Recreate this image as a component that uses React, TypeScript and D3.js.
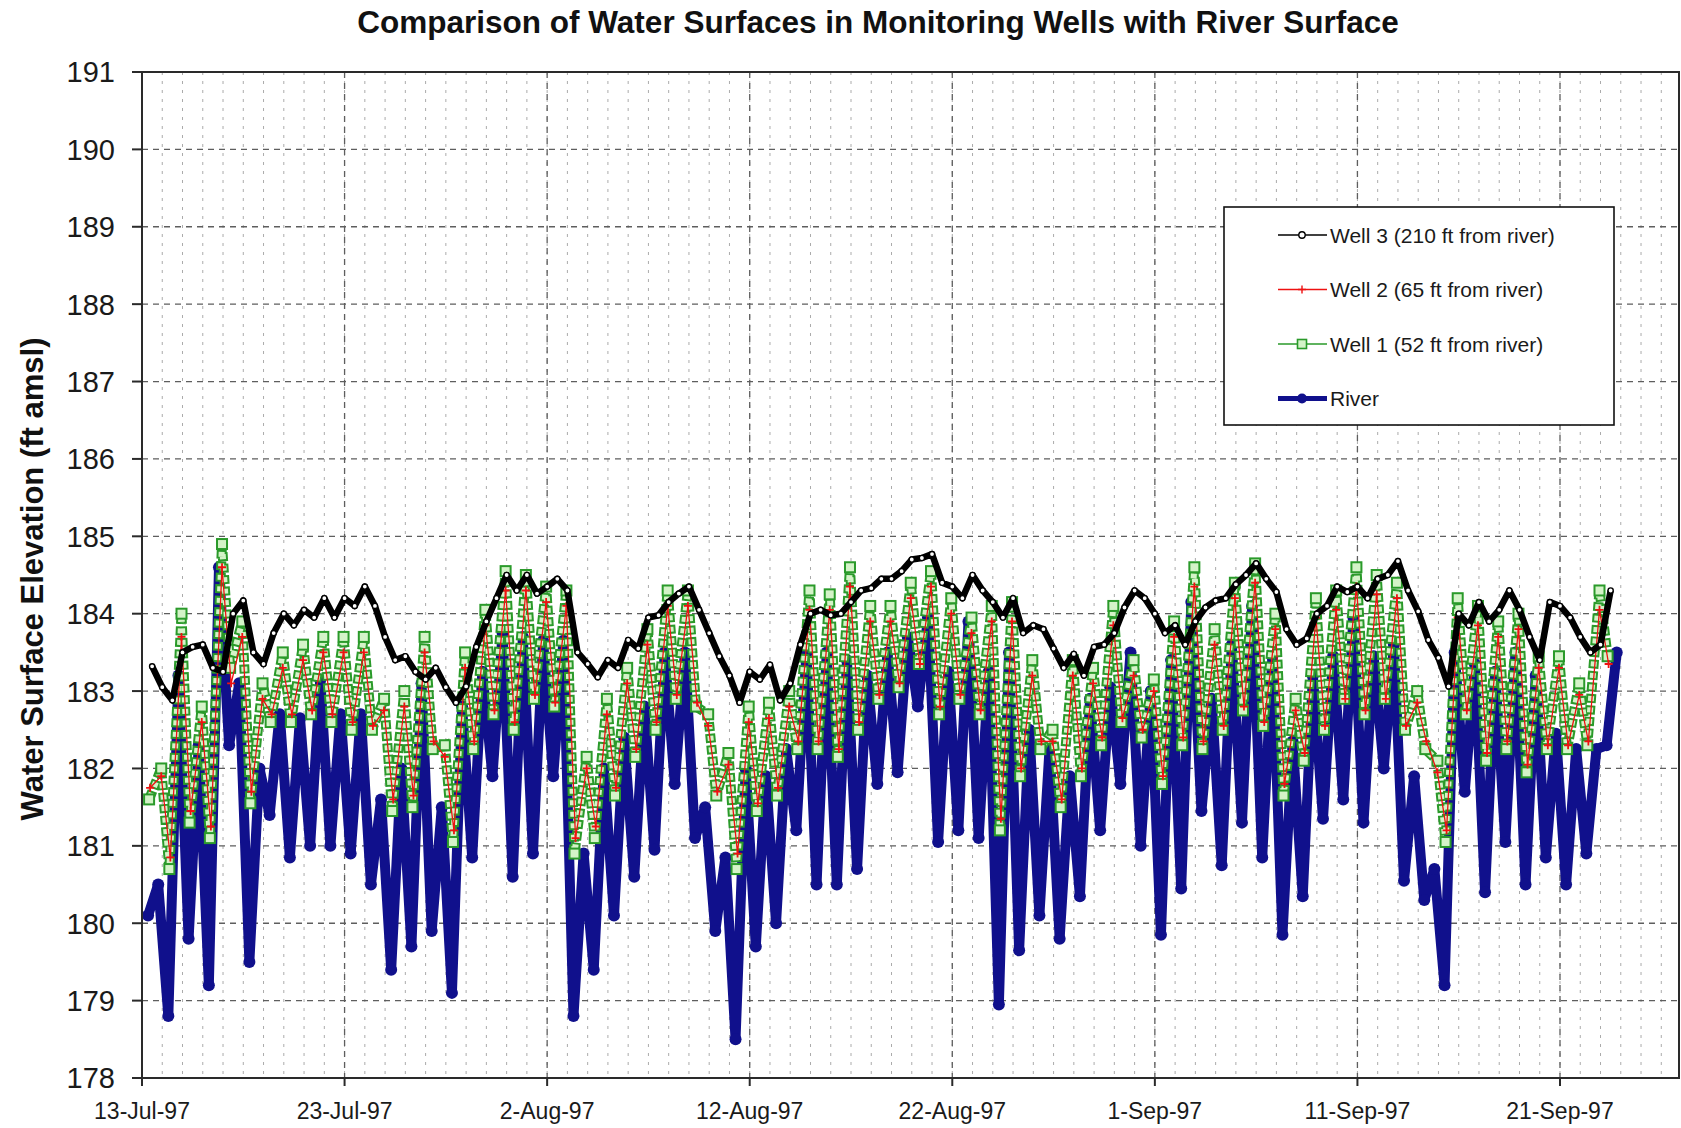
import { useEffect, useRef } from "react";
import * as d3 from "d3";

// Water levels, 13-Jul-97 .. ~25-Sep-97. Daily hydropeaking cycle, so each
// series is kept as one trough + one crest per day (day 0 = 13-Jul-97);
// Well 3 barely moves and is kept every 12 h starting 13-Jul 12:00.
const X_TICK_LABELS = ["13-Jul-97", "23-Jul-97", "2-Aug-97", "12-Aug-97", "22-Aug-97", "1-Sep-97", "11-Sep-97", "21-Sep-97"];
const Y_TICKS = [178, 179, 180, 181, 182, 183, 184, 185, 186, 187, 188, 189, 190, 191];

const RIVER_LOW = [
  180.1, 178.8, 179.8, 179.2, 182.3, 179.5, 181.4, 180.85, 181.0, 181.0,
  180.9, 180.5, 179.4, 179.7, 179.9, 179.1, 180.85, 181.9, 180.6, 180.9,
  181.9, 178.8, 179.4, 180.1, 180.6, 180.95, 181.8, 181.1, 179.9, 178.5,
  179.7, 180.0, 181.2, 180.5, 180.5, 180.7, 181.8, 181.95, 182.8, 181.05,
  181.2, 181.1, 178.95, 179.65, 180.1, 179.8, 180.35, 181.2, 181.8, 181.0,
  179.85, 180.45, 181.45, 180.75, 181.3, 180.85, 179.85, 180.35, 181.35, 181.6,
  181.3, 182.0, 180.55, 180.3, 179.2, 181.7, 180.4, 181.05, 180.5, 180.85,
  180.5, 180.9, 182.3,
];
const RIVER_HIGH = [
  180.5, 183.2, 182.3, 184.6, 183.1, 182.0, 182.7, 182.65, 183.15, 182.7,
  182.7, 181.6, 182.0, 183.1, 181.5, 182.8, 183.25, 183.75, 183.7, 183.65,
  183.65, 180.9, 182.0, 182.4, 182.8, 183.5, 183.5, 181.5, 180.85, 182.0,
  181.9, 182.25, 183.5, 183.5, 183.4, 183.2, 183.5, 183.7, 183.95, 183.25,
  183.9, 183.25, 183.5, 182.5, 182.25, 181.9, 182.9, 183.05, 183.5, 183.0,
  183.4, 184.15, 182.9, 183.6, 184.1, 183.45, 182.35, 183.2, 183.45, 183.95,
  183.45, 183.6, 181.9, 180.7, 183.5, 183.35, 183.25, 183.5, 183.2, 182.45,
  182.25, 182.25, 183.5,
];

const WELL1_LOW = [
  181.6, 180.7, 181.3, 181.1, 183.3, 181.55, 182.6, 182.6, 182.7, 182.6,
  182.5, 182.5, 181.45, 181.5, 182.25, 181.05, 182.25, 182.7, 182.5, 182.9,
  182.8, 180.9, 181.1, 181.65, 182.15, 182.5, 182.9, 182.8, 181.65, 180.7,
  181.45, 181.65, 182.25, 182.25, 182.15, 182.5, 182.9, 183.05, 183.35, 182.7,
  182.9, 182.7, 181.2, 181.9, 182.25, 181.5, 181.9, 182.3, 182.6, 182.4,
  181.8, 182.3, 182.25, 182.5, 182.75, 182.55, 181.65, 182.1, 182.5, 182.9,
  182.7, 182.9, 182.5, 182.25, 181.05, 182.7, 182.1, 182.25, 181.95, 182.25,
  182.25, 182.3, 183.45,
];
const WELL1_HIGH = [
  182.0, 184.0, 182.8, 184.9, 183.9, 183.1, 183.5, 183.6, 183.7, 183.7,
  183.7, 182.9, 183.0, 183.7, 182.3, 183.5, 184.05, 184.55, 184.5, 184.35,
  184.3, 182.15, 182.9, 183.3, 183.8, 184.3, 184.3, 182.7, 182.2, 182.8,
  182.85, 183.0, 184.3, 184.25, 184.6, 184.1, 184.1, 184.4, 184.55, 184.2,
  183.95, 184.1, 184.15, 183.4, 182.5, 183.4, 183.3, 184.1, 183.4, 183.15,
  183.9, 184.6, 183.8, 184.4, 184.65, 184.0, 182.9, 184.2, 184.3, 184.6,
  184.5, 184.4, 183.0, 182.1, 184.2, 184.1, 183.9, 184.0, 183.45, 183.45,
  183.1, 184.3,
];

const WELL2_LOW = [
  181.75, 180.85, 181.45, 181.25, 183.1, 181.7, 182.7, 182.7, 182.75, 182.7,
  182.6, 182.55, 181.6, 181.65, 182.35, 181.2, 182.35, 182.75, 182.6, 182.95,
  182.85, 181.1, 181.25, 181.75, 182.25, 182.6, 182.95, 182.85, 181.7, 180.9,
  181.55, 181.75, 182.35, 182.35, 182.25, 182.6, 182.95, 183.1, 183.35, 182.8,
  182.95, 182.75, 181.35, 182.0, 182.35, 181.6, 182.0, 182.4, 182.65, 182.5,
  181.9, 182.4, 182.35, 182.55, 182.8, 182.6, 181.8, 182.2, 182.55, 182.9,
  182.75, 182.9, 182.55, 182.35, 181.2, 182.75, 182.2, 182.35, 182.05, 182.3,
  182.3, 182.35, 183.35,
];
const WELL2_HIGH = [
  181.9, 183.7, 182.6, 184.6, 183.7, 182.9, 183.3, 183.4, 183.5, 183.5,
  183.5, 182.75, 182.8, 183.5, 182.15, 183.3, 183.85, 184.3, 184.3, 184.15,
  184.1, 182.0, 182.7, 183.1, 183.6, 184.1, 184.1, 182.55, 182.05, 182.6,
  182.65, 182.8, 184.05, 184.05, 184.35, 183.9, 183.9, 184.2, 184.35, 184.0,
  183.75, 183.9, 183.9, 183.2, 182.35, 183.2, 183.1, 183.85, 183.2, 183.0,
  183.7, 184.35, 183.6, 184.2, 184.4, 183.8, 182.75, 183.95, 184.05, 184.35,
  184.25, 184.2, 182.85, 181.95, 183.95, 183.85, 183.7, 183.8, 183.3, 183.3,
  182.95, 184.05,
];

const WELL3 = [
  183.32, 183.05, 182.88, 183.5, 183.57, 183.6, 183.3, 183.25, 184.0, 184.17,
  183.5, 183.35, 183.75, 184.0, 183.85, 184.05, 183.95, 184.2, 183.95, 184.2,
  184.1, 184.35, 184.1, 183.7, 183.4, 183.45, 183.25, 183.15, 183.3, 183.05,
  182.85, 183.06, 183.57, 183.9, 184.2, 184.5, 184.3, 184.5, 184.26, 184.35,
  184.45, 184.3, 183.5, 183.35, 183.18, 183.4, 183.3, 183.66, 183.55, 183.95,
  183.98, 184.15, 184.26, 184.35, 184.05, 183.75, 183.45, 183.2, 182.85, 183.25,
  183.15, 183.34, 182.88, 183.1, 183.6, 184.0, 184.05, 183.98, 184.0, 184.15,
  184.3, 184.33, 184.45, 184.45, 184.55, 184.7, 184.72, 184.77, 184.4, 184.35,
  184.2, 184.5, 184.3, 184.15, 183.95, 184.2, 183.75, 183.85, 183.8, 183.55,
  183.3, 183.48, 183.2, 183.57, 183.6, 183.75, 184.08, 184.3, 184.2, 184.0,
  183.75, 183.85, 183.6, 183.9, 184.08, 184.17, 184.2, 184.38, 184.5, 184.65,
  184.45, 184.28, 183.8, 183.6, 183.68, 184.0, 184.1, 184.35, 184.28, 184.35,
  184.2, 184.45, 184.5, 184.68, 184.3, 184.03, 183.66, 183.43, 183.06, 184.0,
  183.85, 184.15, 183.9, 184.05, 184.3, 184.05, 183.7, 183.4, 184.15, 184.1,
  183.95, 183.7, 183.5, 183.6, 184.3,
];

type Pt = [number, number]; // [day offset, elevation]

// trough then crest each day, at the usual time of day for that series
function daily(lows: number[], highs: number[], lowAt: number, highAt: number): Pt[] {
  const out: Pt[] = [];
  lows.forEach((v, i) => {
    out.push([i + lowAt, v]);
    if (highs[i] !== undefined) out.push([i + highAt, highs[i]]);
  });
  return out;
}

const FONT = "'Liberation Sans', Arial, Helvetica, sans-serif";
const NAVY = "#10108c";
const GREEN = "#2a9a2a";
const GREEN_FILL = "#d4f3c8";
const RED = "#ee1111";

export default function App() {
  const ref = useRef<SVGSVGElement>(null);

  useEffect(() => {
    document.body.style.margin = "0";
    const el = ref.current;
    if (!el) return;
    const svg = d3.select(el);
    svg.selectAll("*").remove();

    const left = 142, right = 1679, top = 72, bottom = 1078;
    const parse = d3.timeParse("%d-%b-%y");
    const tickDates = X_TICK_LABELS.map((s) => parse(s)!);
    const day0 = tickDates[0];
    const at = (t: number) => new Date(day0.getTime() + t * 864e5);

    const x = d3.scaleTime().domain([tickDates[0], tickDates[tickDates.length - 1]]).range([left, 1560]);
    const y = d3.scaleLinear().domain([178, 191]).range([bottom, top]);
    const px = (d: Pt) => x(at(d[0]));
    const py = (d: Pt) => y(d[1]);

    svg.append("rect").attr("width", 1681).attr("height", 1128).attr("fill", "#fff");

    svg.append("defs").append("clipPath").attr("id", "plot")
      .append("rect").attr("x", left).attr("y", top).attr("width", right - left).attr("height", bottom - top);

    // minor daily grid
    const days = d3.timeDay.range(tickDates[0], x.invert(right));
    svg.append("g").selectAll("line").data(days.slice(1)).join("line")
      .attr("x1", (d) => x(d)).attr("x2", (d) => x(d))
      .attr("y1", top).attr("y2", bottom)
      .attr("stroke", "#ababab").attr("stroke-width", 1).attr("stroke-dasharray", "3 6");

    // major grid
    svg.append("g").selectAll("line").data(Y_TICKS.slice(1, -1)).join("line")
      .attr("x1", left).attr("x2", right)
      .attr("y1", (d) => y(d)).attr("y2", (d) => y(d))
      .attr("stroke", "#5e5e5e").attr("stroke-width", 1.3).attr("stroke-dasharray", "6 5");
    svg.append("g").selectAll("line").data(tickDates.slice(1)).join("line")
      .attr("x1", (d) => x(d)).attr("x2", (d) => x(d))
      .attr("y1", top).attr("y2", bottom)
      .attr("stroke", "#5e5e5e").attr("stroke-width", 1.3).attr("stroke-dasharray", "6 5");

    const plot = svg.append("g").attr("clip-path", "url(#plot)");
    const line = d3.line<Pt>().x(px).y(py);

    // River
    const river = daily(RIVER_LOW, RIVER_HIGH, 0.3, 0.8);
    plot.append("path").attr("d", line(river)).attr("fill", "none")
      .attr("stroke", NAVY).attr("stroke-width", 10).attr("stroke-linejoin", "round");
    plot.append("g").selectAll("circle").data(river).join("circle")
      .attr("cx", px).attr("cy", py).attr("r", 6).attr("fill", NAVY);

    // Well 1 — chain of open squares along the trace
    const well1 = daily(WELL1_LOW, WELL1_HIGH, 0.35, 0.95);
    plot.append("path").attr("d", line(well1)).attr("fill", "none")
      .attr("stroke", GREEN).attr("stroke-width", 10).attr("stroke-dasharray", "9 2.5");
    plot.append("path").attr("d", line(well1)).attr("fill", "none")
      .attr("stroke", GREEN_FILL).attr("stroke-width", 6)
      .attr("stroke-dasharray", "5 6.5").attr("stroke-dashoffset", -2);
    plot.append("g").selectAll("rect").data(well1).join("rect")
      .attr("x", (d) => px(d) - 5).attr("y", (d) => py(d) - 5)
      .attr("width", 10).attr("height", 10)
      .attr("fill", GREEN_FILL).attr("stroke", GREEN).attr("stroke-width", 2);

    // Well 2
    const well2 = daily(WELL2_LOW, WELL2_HIGH, 0.4, 0.95);
    plot.append("path").attr("d", line(well2)).attr("fill", "none")
      .attr("stroke", RED).attr("stroke-width", 1.3);
    plot.append("g").selectAll("path").data(well2).join("path")
      .attr("d", (d) => `M${px(d) - 4},${py(d)}h8M${px(d)},${py(d) - 4}v8`)
      .attr("stroke", RED).attr("stroke-width", 1.8);

    // Well 3
    const well3: Pt[] = WELL3.map((v, i) => [0.5 + i * 0.5, v]);
    plot.append("path").attr("d", line(well3)).attr("fill", "none")
      .attr("stroke", "#000").attr("stroke-width", 6.5).attr("stroke-linejoin", "round");
    plot.append("g").selectAll("circle").data(well3).join("circle")
      .attr("cx", px).attr("cy", py).attr("r", 2.6)
      .attr("fill", "#fff").attr("stroke", "#000").attr("stroke-width", 1.4);

    // frame + ticks
    svg.append("rect").attr("x", left).attr("y", top).attr("width", right - left).attr("height", bottom - top)
      .attr("fill", "none").attr("stroke", "#2a2a2a").attr("stroke-width", 2);
    svg.append("g").selectAll("line").data(Y_TICKS).join("line")
      .attr("x1", left - 10).attr("x2", left).attr("y1", (d) => y(d)).attr("y2", (d) => y(d))
      .attr("stroke", "#2a2a2a").attr("stroke-width", 2);
    svg.append("g").selectAll("line").data(tickDates).join("line")
      .attr("x1", (d) => x(d)).attr("x2", (d) => x(d)).attr("y1", bottom).attr("y2", bottom + 8)
      .attr("stroke", "#2a2a2a").attr("stroke-width", 2);

    svg.append("g").selectAll("text").data(Y_TICKS).join("text")
      .attr("x", 115).attr("y", (d) => y(d)).attr("dy", "0.36em")
      .attr("text-anchor", "end").attr("font-family", FONT).attr("font-size", 29).attr("fill", "#1a1a1a")
      .text((d) => d);
    svg.append("g").selectAll("text").data(X_TICK_LABELS).join("text")
      .attr("x", (_d, i) => x(tickDates[i])).attr("y", 1119)
      .attr("text-anchor", "middle").attr("font-family", FONT).attr("font-size", 23).attr("fill", "#1a1a1a")
      .text((d) => d);

    svg.append("text").attr("x", 878).attr("y", 33).attr("text-anchor", "middle")
      .attr("font-family", FONT).attr("font-size", 31.5).attr("font-weight", "bold").attr("fill", "#111")
      .text("Comparison of Water Surfaces in Monitoring Wells with River Surface");
    svg.append("text").attr("transform", "translate(32,579) rotate(-90)")
      .attr("text-anchor", "middle").attr("dy", "0.36em")
      .attr("font-family", FONT).attr("font-size", 31).attr("font-weight", "bold").attr("fill", "#111")
      .text("Water Surface Elevation (ft amsl)");

    // legend
    const lg = svg.append("g");
    lg.append("rect").attr("x", 1224).attr("y", 207).attr("width", 390).attr("height", 218)
      .attr("fill", "#fff").attr("stroke", "#111").attr("stroke-width", 1.6);
    const items = [
      { name: "Well 3 (210 ft from river)", color: "#000", w: 1.6, mark: "circle" },
      { name: "Well 2 (65 ft from river)", color: RED, w: 1.4, mark: "plus" },
      { name: "Well 1 (52 ft from river)", color: GREEN, w: 1.6, mark: "square" },
      { name: "River", color: NAVY, w: 5, mark: "dot" },
    ];
    items.forEach((it, i) => {
      const cy = 235 + i * 54.5;
      const g = lg.append("g");
      g.append("line").attr("x1", 1278).attr("x2", 1327).attr("y1", cy).attr("y2", cy)
        .attr("stroke", it.color).attr("stroke-width", it.w);
      if (it.mark === "circle") {
        g.append("circle").attr("cx", 1302).attr("cy", cy).attr("r", 3.2)
          .attr("fill", "#fff").attr("stroke", "#000").attr("stroke-width", 1.4);
      } else if (it.mark === "plus") {
        g.append("path").attr("d", `M1298,${cy}h8M1302,${cy - 4}v8`).attr("stroke", RED).attr("stroke-width", 1.4);
      } else if (it.mark === "square") {
        g.append("rect").attr("x", 1297.5).attr("y", cy - 4.5).attr("width", 9).attr("height", 9)
          .attr("fill", GREEN_FILL).attr("stroke", GREEN).attr("stroke-width", 1.6);
      } else {
        g.append("circle").attr("cx", 1302).attr("cy", cy).attr("r", 5).attr("fill", NAVY);
      }
      g.append("text").attr("x", 1330).attr("y", cy).attr("dy", "0.36em")
        .attr("font-family", FONT).attr("font-size", 21).attr("fill", "#1a1a1a")
        .text(it.name);
    });
  }, []);

  return (
    <div style={{ position: "absolute", left: 0, top: 0 }}>
      <svg ref={ref} width={1681} height={1128} style={{ display: "block" }} />
    </div>
  );
}
